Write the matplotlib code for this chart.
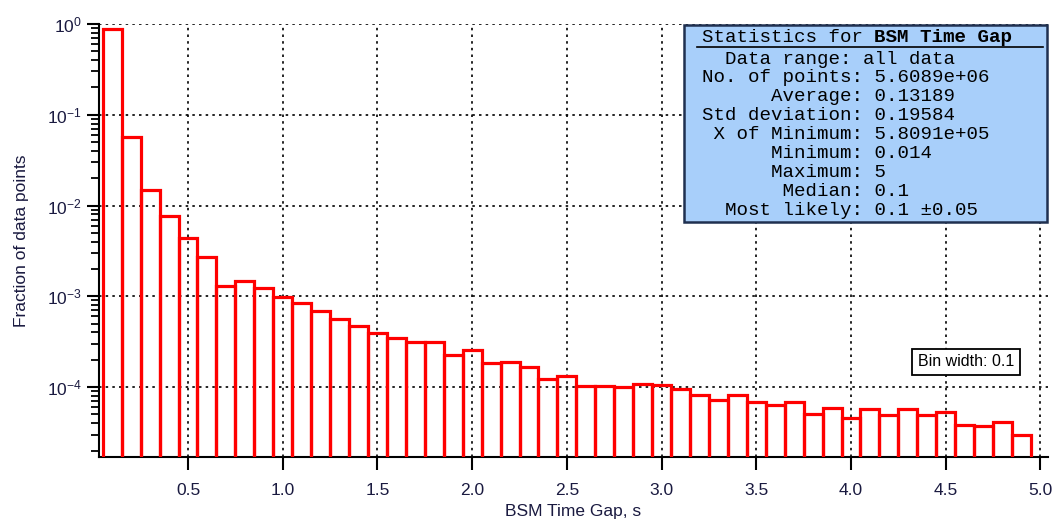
import numpy as np
import matplotlib
matplotlib.use("Agg")
import matplotlib.pyplot as plt
from matplotlib.patches import Rectangle

plt.rcParams['font.family'] = ['Liberation Sans', 'DejaVu Sans']
plt.rcParams['mathtext.default'] = 'regular'

# histogram of BSM time gaps, bin width 0.1
bin_centers = np.round(np.arange(1, 50) * 0.1, 2)
fractions = [
    0.88, 0.057, 0.0148, 0.00766, 0.00438, 0.00273, 0.0013, 0.00149, 0.00124, 0.00099,
    8.36e-4, 6.87e-4, 5.66e-4, 4.7e-4, 3.93e-4, 3.5e-4, 3.16e-4, 3.16e-4, 2.25e-4, 2.54e-4,
    1.81e-4, 1.87e-4, 1.67e-4, 1.22e-4, 1.33e-4, 1.03e-4, 1.03e-4, 9.85e-5, 1.08e-4, 1.04e-4,
    9.5e-5, 8.0e-5, 7.19e-5, 8.0e-5, 6.71e-5, 6.22e-5, 6.77e-5, 4.95e-5, 5.73e-5, 4.48e-5,
    5.58e-5, 4.79e-5, 5.58e-5, 4.83e-5, 5.21e-5, 3.72e-5, 3.6e-5, 3.98e-5, 2.86e-5,
]
bin_width = 0.1

x_ticks = [0.5, 1.0, 1.5, 2.0, 2.5, 3.0, 3.5, 4.0, 4.5, 5.0]
x_tick_labels = ["0.5", "1.0", "1.5", "2.0", "2.5", "3.0", "3.5", "4.0", "4.5", "5.0"]
y_ticks = [1e0, 1e-1, 1e-2, 1e-3, 1e-4]

stats_title = "Statistics for "
stats_name = "BSM Time Gap"
stats_lines = [
    "  Data range: all data",
    "No. of points: 5.6089e+06",
    "      Average: 0.13189",
    "Std deviation: 0.19584",
    " X of Minimum: 5.8091e+05",
    "      Minimum: 0.014",
    "      Maximum: 5",
    "       Median: 0.1",
    "  Most likely: 0.1 \u00b10.05",
]

W, H = 1053, 520
fig = plt.figure(figsize=(W / 100, H / 100), dpi=100)
ax = fig.add_axes([99 / W, 1 - 457 / H, (1048 - 99) / W, (457 - 24) / H])

ax.bar(bin_centers, fractions, width=bin_width, bottom=1e-6, fill=False,
       edgecolor='#ff0000', linewidth=2.3, zorder=3)

ax.set_yscale('log')
ax.set_xlim(0.03, 5.04)
ax.set_ylim(10 ** -4.77, 1.0)

ax.set_xticks(x_ticks)
ax.set_xticklabels(x_tick_labels)
ax.set_yticks(y_ticks)
ax.tick_params(axis='both', which='major', labelsize=12.5, length=9, width=1.5,
               direction='out', colors='black', labelcolor='#1a1a40')
ax.tick_params(axis='y', which='minor', length=6, width=1.3)
ax.tick_params(axis='x', pad=10)

for s in ['top', 'right']:
    ax.spines[s].set_visible(False)
for s in ['left', 'bottom']:
    ax.spines[s].set_linewidth(1.5)

ax.grid(True, which='major', color='black', linestyle=(0, (1.5, 2.5)), linewidth=1.2, zorder=1)

ax.set_xlabel("BSM Time Gap, s", fontsize=12.5, color='#1a1a40', labelpad=4)
ax.set_ylabel("Fraction of data points", fontsize=12.5, color='#1a1a40', labelpad=13)

# statistics box
fig.patches.append(Rectangle((684 / W, 1 - 222 / H), (1047 - 684) / W, (222 - 25) / H,
                             transform=fig.transFigure, facecolor='#a8cffa',
                             edgecolor='#1f3050', linewidth=1.8, zorder=5))
mono = 'Liberation Mono'
fs = 13.8
char_w = 11.5
x0 = 702
fig.text(x0 / W, 1 - 37 / H, stats_title, family=mono, fontsize=fs, va='center', ha='left', zorder=6)
fig.text((x0 + len(stats_title) * char_w) / W, 1 - 37 / H, stats_name, family=mono,
         fontsize=fs, fontweight='bold', va='center', ha='left', zorder=6)
fig.add_artist(plt.Line2D([697 / W, 1043 / W], [1 - 47 / H, 1 - 47 / H], color='black',
                          linewidth=1.2, zorder=6))
for i, line in enumerate(stats_lines):
    fig.text(x0 / W, 1 - (59 + i * 18.9) / H, line, family=mono, fontsize=fs,
             va='center', ha='left', zorder=6)

# bin width note
fig.text(966 / W, 1 - 362 / H, "Bin width: 0.1", fontsize=11.5, ha='center', va='center',
         bbox=dict(boxstyle='square,pad=0.35', facecolor='white', edgecolor='black', linewidth=1.3))

fig.savefig("out.png", dpi=100)
